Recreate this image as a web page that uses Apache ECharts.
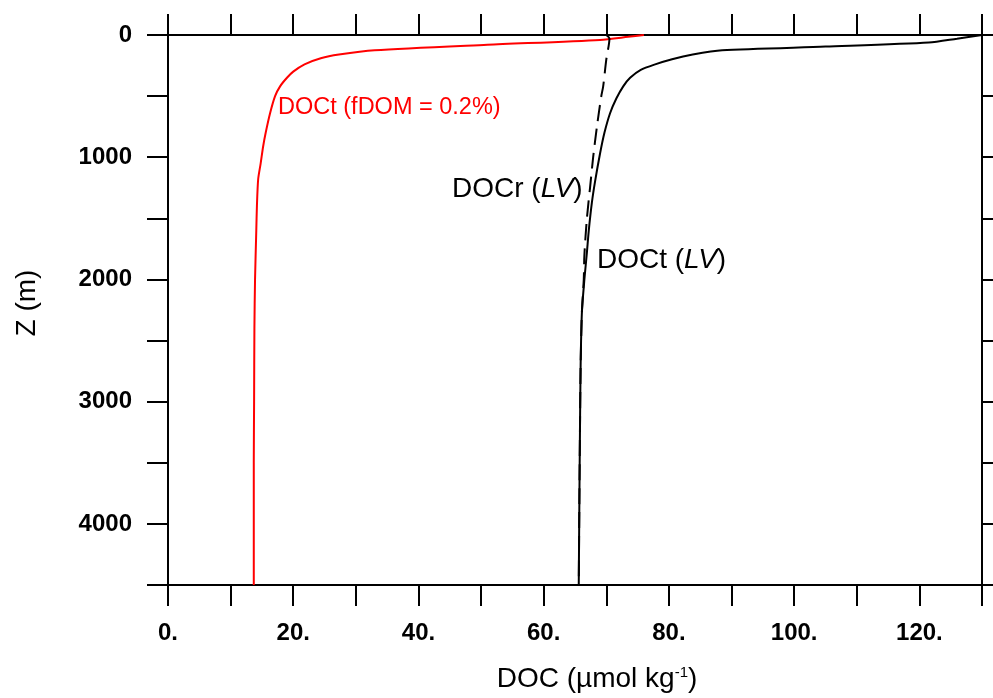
<!DOCTYPE html>
<html>
<head>
<meta charset="utf-8">
<script src="https://cdn.jsdelivr.net/npm/echarts@6/dist/echarts.min.js"></script>
<style>
    html, body { margin: 0; padding: 0; background: #fff; }
    #docChart { width: 993px; height: 698px; }
</style>
</head>
<body>
<div id="docChart"></div>
<script>
// depth (m) and DOC (umol/kg)
const redDepth = [0, 15, 40, 80, 125, 160, 190, 240, 300, 350, 420, 500, 640, 800, 910, 1050, 1180, 1400, 1600, 2000, 2400, 3000, 3500, 4000, 4500];
const redDoc = [76.0, 73.5, 69.0, 51.0, 33.0, 27.3, 24.4, 21.8, 20.0, 19.0, 17.9, 17.1, 16.3, 15.6, 15.2, 14.8, 14.4, 14.2, 14.1, 13.9, 13.8, 13.75, 13.7, 13.7, 13.7];

const doctDepth = [0, 30, 62, 95, 125, 160, 198, 240, 285, 350, 420, 520, 640, 800, 970, 1200, 1370, 1600, 1780, 2000, 2270, 2700, 3200, 3800, 4500];
const doctDoc = [130, 126, 121.5, 105, 88.5, 83.8, 80.5, 77.8, 75.5, 73.8, 72.7, 71.6, 70.6, 69.7, 69.0, 68.2, 67.7, 67.2, 66.9, 66.5, 66.1, 65.9, 65.8, 65.7, 65.6];

const docrDepth = [0, 30, 200, 420, 500, 750, 1000, 1250, 1500, 1800, 2000, 2270, 2700, 3200, 3800, 4500];
const docrDoc = [70.0, 70.5, 70.0, 69.5, 69.2, 68.5, 67.9, 67.4, 66.9, 66.5, 66.4, 66.1, 65.9, 65.8, 65.7, 65.6];

const xTicks = [0, 20, 40, 60, 80, 100, 120];
const yTicks = [0, 1000, 2000, 3000, 4000];

const FONT = 'Liberation Sans, Arial, sans-serif';

class ProfileChart {
    constructor(id) {
        this.chart = echarts.init(document.getElementById(id));
    }
    pairs(doc, depth) {
        return doc.map((v, i) => [v, depth[i]]);
    }
    axisBase() {
        return {
            axisLine: { show: true, onZero: false, lineStyle: { color: '#000', width: 2 } },
            axisTick: { show: true, inside: false, length: 21, lineStyle: { color: '#000', width: 2 } },
            splitLine: { show: false }
        };
    }
    makeXAxis() {
        let bottom = Object.assign(this.axisBase(), {
            type: 'value', position: 'bottom', min: 0, max: 130, interval: 10,
            name: 'DOC (µmol kg{sup|-1})',
            nameLocation: 'middle', nameGap: 80,
            nameTextStyle: {
                color: '#000', fontFamily: FONT, fontSize: 28, padding: [0, 0, 0, 44],
                rich: { sup: { fontSize: 15, verticalAlign: 'top', padding: [0, 0, 11, 0], fontFamily: FONT, color: '#000' } }
            },
            axisLabel: {
                margin: 36, color: '#000', fontFamily: FONT, fontSize: 24, fontWeight: 'bold',
                formatter: v => xTicks.indexOf(v) >= 0 ? v + '.' : ''
            }
        });
        let top = Object.assign(this.axisBase(), {
            type: 'value', position: 'top', min: 0, max: 130, interval: 10,
            axisLabel: { show: false }
        });
        return [bottom, top];
    }
    makeYAxis() {
        let left = Object.assign(this.axisBase(), {
            type: 'value', position: 'left', inverse: true, min: 0, max: 4500, interval: 500,
            name: 'Z (m)', nameLocation: 'middle', nameGap: 127,
            nameTextStyle: { color: '#000', fontFamily: FONT, fontSize: 28, padding: [0, 0, 0, 14] },
            axisLabel: {
                margin: 36, color: '#000', fontFamily: FONT, fontSize: 24, fontWeight: 'bold',
                formatter: v => yTicks.indexOf(v) >= 0 ? String(v) : ''
            }
        });
        let right = Object.assign(this.axisBase(), {
            type: 'value', position: 'right', inverse: true, min: 0, max: 4500, interval: 500,
            axisLabel: { show: false }
        });
        return [left, right];
    }
    lineSeries(data, color, dash) {
        return {
            type: 'line', data: data, xAxisIndex: 0, yAxisIndex: 0,
            showSymbol: false, smooth: 0.25, silent: true,
            lineStyle: { color: color, width: 2, type: dash ? [16, 8] : 'solid' }
        };
    }
    makeLabels() {
        let rich = (size, color) => ({
            n: { fontSize: size, fontFamily: FONT, fill: color },
            i: { fontSize: size, fontFamily: FONT, fontStyle: 'italic', fill: color }
        });
        return [
            { type: 'text', left: 278, top: 96, style: { text: 'DOCt (fDOM = 0.2%)', fontSize: 23.5, fontFamily: FONT, fill: '#ff0000' } },
            { type: 'text', left: 452, top: 175, style: { text: '{n|DOCr (}{i|LV}{n|)}', rich: rich(28, '#000') } },
            { type: 'text', left: 597, top: 246, style: { text: '{n|DOCt (}{i|LV}{n|)}', rich: rich(28, '#000') } }
        ];
    }
    render() {
        let option = {
            backgroundColor: '#fff',
            animation: false,
            grid: { left: 168, right: 11, top: 35, bottom: 111, containLabel: false },
            xAxis: this.makeXAxis(),
            yAxis: this.makeYAxis(),
            series: [
                this.lineSeries(this.pairs(redDoc, redDepth), '#ff0000', false),
                this.lineSeries(this.pairs(docrDoc, docrDepth), '#000', true),
                this.lineSeries(this.pairs(doctDoc, doctDepth), '#000', false)
            ],
            graphic: this.makeLabels()
        };
        this.chart.setOption(option);
    }
}

let profile = new ProfileChart('docChart');
profile.render();
</script>
</body>
</html>
